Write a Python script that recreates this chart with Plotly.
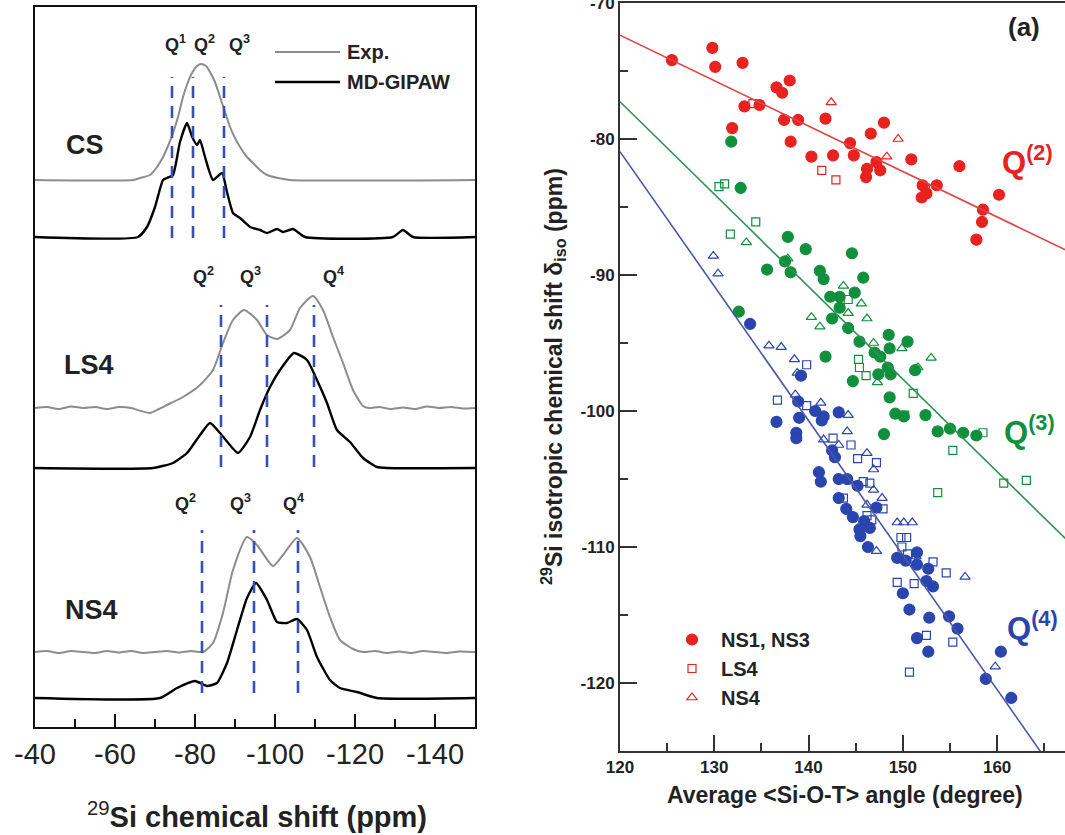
import plotly.graph_objects as go

W, H = 1065, 835
FONT = "Liberation Sans, Arial, sans-serif"

# ================= LEFT PANEL : 29Si spectra =================
# CS
cs_exp_shift = [-40, -64.5, -66.25, -68.75, -70.5, -72, -73.25, -74.5, -75.75, -77, -78.25, -79.25, -80.5,
                -81.5, -82.75, -83.75, -85, -86.25, -87.5, -88.75, -90, -91.25, -93, -94.5, -96.25, -98,
                -100.75, -103.75, -150]
cs_exp_int = [0, 0, 0.2, 0.5, 1.3, 2.3, 3.4, 4.7, 6.3, 8.3, 9.8, 10.7, 11.4,
              11.6, 11.4, 10.8, 9.8, 8.3, 6.8, 5.3, 4.2, 3.3, 2.3, 1.7, 1.0, 0.5,
              0.2, 0, 0]
cs_md_shift = [-40, -65.75, -68, -70, -72, -73, -74.5, -76.25, -78, -79.3, -80.5, -81.25, -82.5, -84.5,
               -86.75, -88, -89.5, -91.25, -93.75, -96.25, -98, -100.5, -102, -104.5, -107.5,
               -129.5, -132, -134.5, -150]
cs_md_int = [0, 0, 1.0, 3.0, 5.7, 5.9, 6.2, 9.5, 11.4, 10.0, 9.2, 9.7, 8.0, 5.7,
             6.4, 4.5, 2.4, 1.9, 1.0, 0.7, 0.4, 0.8, 0.5, 0.8, 0,
             0, 0.7, 0, 0]
# LS4
ls4_exp_shift = [-40, -43, -46, -49, -52, -55, -58, -61, -64, -66.5, -68.75, -71, -73, -77, -81.25, -84.5,
                 -87, -89.5, -92.25, -95.5, -98, -100.5, -103.75, -106.25, -109.5, -112, -114.5, -117,
                 -119.5, -122, -123.5, -126, -129, -132, -135, -138, -141, -144, -147, -150]
ls4_exp_int = [0, 0.1, -0.1, 0.15, 0, 0.1, -0.1, 0.1, 0, -0.3, -0.5, -0.1, 0.3, 1.1, 2.3, 3.8,
               6.5, 8.8, 9.8, 8.8, 7.3, 6.9, 7.8, 10.0, 11.2, 9.8, 7.1, 4.5,
               1.8, 0.2, 0, 0.1, -0.1, 0.05, -0.1, 0.15, 0, 0.1, -0.05, 0]
ls4_md_shift = [-40, -69.5, -74.5, -78, -81.25, -83.75, -86.25, -90.75, -93.75, -96.25, -98.75, -101.25,
                -104.75, -108, -110.5, -113, -115.5, -118.75, -122, -125.5, -128, -150]
ls4_md_int = [0, 0, 0.5, 1.5, 3.3, 4.5, 3.5, 1.5, 3.1, 5.8, 8.1, 9.8,
              11.5, 10.8, 8.8, 6.5, 3.8, 2.6, 1.0, 0.1, 0, 0]
# NS4
ns4_exp_shift = [-40, -43, -46, -49, -52, -55, -58, -61, -64, -67, -70, -73, -76, -79, -82, -84.5, -87,
                 -89.5, -93, -95.5, -99.5, -102, -105.5, -108.75, -111.25, -113.75, -116.25, -119.5,
                 -122, -125, -128, -131, -134, -137, -140, -143, -146, -150]
ns4_exp_int = [0, 0.1, -0.1, 0.1, 0, -0.1, 0.1, -0.05, 0.1, -0.1, 0, 0.1, -0.05, 0.1, 0, 0.9, 3.9,
               8.2, 11.5, 10.7, 8.6, 9.7, 11.4, 9.5, 6.5, 3.5, 1.2, 0.3,
               0, 0.1, -0.1, 0.05, -0.1, 0.1, 0, -0.1, 0.05, 0]
ns4_md_shift = [-40, -71.25, -75.5, -80, -83, -85.5, -88, -90.5, -93, -95.25, -98, -100.5, -103,
                -105.5, -108, -110.5, -113.75, -116.25, -120.5, -125.5, -150]
ns4_md_int = [0, 0, 1.0, 1.7, 1.2, 1.5, 3.5, 6.8, 10.0, 11.5, 9.8, 7.6, 7.5,
              7.9, 6.8, 4.1, 1.8, 1.0, 0.6, 0, 0]

samples = ["CS", "LS4", "NS4"]
exp_offset = [54.7, 31.9, 7.5]
md_offset = [49.0, 25.9, 2.9]
# Q^n site positions (ppm) and their labels
q_pos = [[-74.25, -79.5, -87.25], [-86.5, -98.0, -109.75], [-81.75, -94.75, -105.75]]
q_names = [["1", "2", "3"], ["2", "3", "4"], ["2", "3", "4"]]
q_label_x = [[-75.0, -82.25, -91.0], [-82.0, -93.75, -114.5], [-77.5, -91.25, -104.5]]
q_label_y = [68.4, 45.2, 22.5]
q_dash_y = [[48.9, 65.0], [26.0, 42.2], [3.4, 19.7]]
sample_label_pos = [(-52.5, 58.2), (-53.5, 36.2), (-54.0, 11.7)]

exp_data = [(cs_exp_shift, cs_exp_int), (ls4_exp_shift, ls4_exp_int), (ns4_exp_shift, ns4_exp_int)]
md_data = [(cs_md_shift, cs_md_int), (ls4_md_shift, ls4_md_int), (ns4_md_shift, ns4_md_int)]

# ================= RIGHT PANEL : delta_iso vs angle =================
q2_fill_x = [125.5, 129.8, 130.1, 133.0, 136.6, 137.2, 138.0, 133.2, 134.8, 137.4, 138.9, 141.8, 131.9,
             138.1, 140.3, 142.6, 144.4, 144.8, 146.6, 148.0, 147.2, 146.2, 147.6, 146.1, 150.9, 156.0,
             152.1, 153.6, 152.5, 152.0, 160.2, 158.5, 158.4, 157.8]
q2_fill_y = [-74.2, -73.3, -74.7, -74.4, -76.2, -76.6, -75.7, -77.6, -77.5, -78.6, -78.6, -78.5, -79.2,
             -80.2, -81.3, -81.2, -80.3, -81.2, -79.6, -78.8, -81.7, -82.2, -82.3, -82.8, -81.5, -82.0,
             -83.4, -83.4, -84.0, -84.3, -84.1, -85.2, -86.1, -87.4]
q2_sq_x = [134.1, 141.4, 142.9, 152.4]
q2_sq_y = [-77.4, -82.3, -83.0, -83.7]
q2_tri_x = [142.4, 149.5, 148.3]
q2_tri_y = [-77.3, -80.0, -81.3]

q3_fill_x = [131.8, 132.8, 137.8, 139.7, 144.6, 135.6, 137.5, 138.1, 141.2, 141.6, 145.8, 142.3, 143.3,
             144.9, 143.3, 142.5, 144.2, 145.4, 148.5, 148.6, 147.0, 147.6, 141.8, 147.4, 144.7, 148.6,
             149.2, 148.0, 132.6, 150.5, 148.4, 148.7, 151.3, 150.1, 152.4, 153.7, 155.0, 156.4, 157.8]
q3_fill_y = [-80.2, -83.6, -87.2, -88.1, -88.4, -89.6, -89.0, -89.8, -89.7, -90.3, -90.2, -91.6, -91.6,
             -91.3, -92.4, -93.2, -93.9, -94.9, -94.4, -95.4, -95.7, -96.0, -96.0, -97.3, -97.8, -99.0,
             -100.2, -101.7, -92.7, -94.9, -96.8, -97.3, -97.0, -100.4, -100.3, -101.5, -101.3, -101.6, -101.8]
q3_sq_x = [130.5, 131.1, 134.4, 131.7, 144.2, 145.3, 145.4, 146.1, 151.1, 150.2, 158.5, 155.3, 160.7,
           163.1, 153.7]
q3_sq_y = [-83.5, -83.3, -86.1, -87.0, -91.8, -96.2, -96.8, -97.4, -98.7, -100.3, -101.6, -102.9, -105.3,
           -105.1, -106.0]
q3_tri_x = [133.4, 137.8, 143.7, 145.6, 144.2, 146.2, 140.3, 141.2, 146.9, 147.3, 148.8, 149.9, 153.0, 151.6]
q3_tri_y = [-87.6, -88.8, -90.8, -92.1, -92.8, -93.2, -93.1, -93.8, -95.0, -97.9, -97.1, -95.4, -96.1, -96.8]

q4_fill_x = [133.8, 139.2, 138.9, 140.7, 141.6, 141.4, 143.2, 136.6, 139.0, 138.7, 138.7, 142.5, 142.8,
             141.1, 141.3, 143.2, 144.1, 145.2, 143.2, 144.0, 144.7, 147.2, 145.9, 145.4, 146.5, 145.5,
             146.3, 149.4, 150.3, 151.5, 151.5, 152.7, 152.5, 153.2, 150.0, 150.7, 152.8, 154.9, 155.8,
             151.5, 152.7, 160.4, 158.8, 161.5]
q4_fill_y = [-93.6, -97.4, -99.3, -100.0, -100.4, -100.7, -100.1, -100.8, -100.5, -101.6, -102.0, -102.9,
             -103.4, -104.5, -105.2, -105.0, -105.0, -105.5, -106.4, -107.2, -107.8, -107.1, -108.1, -108.7,
             -108.6, -109.2, -110.0, -110.8, -111.0, -110.4, -111.3, -111.6, -112.5, -112.9, -113.4, -114.6,
             -115.2, -115.1, -116.0, -116.7, -117.7, -117.7, -119.7, -121.1]
q4_sq_x = [139.8, 136.7, 139.8, 142.6, 144.5, 145.2, 147.2, 145.8, 146.5, 143.7, 146.2, 147.9, 146.7,
           149.8, 150.4, 149.9, 150.5, 153.2, 154.6, 149.4, 151.2, 152.5, 155.3, 150.7]
q4_sq_y = [-96.6, -99.2, -99.6, -102.0, -102.5, -103.5, -103.8, -105.2, -105.3, -106.4, -107.7, -107.2,
           -108.0, -109.3, -109.3, -110.0, -110.5, -111.1, -111.9, -112.6, -112.7, -116.5, -117.0, -119.2]
q4_tri_x = [129.9, 130.4, 135.8, 137.1, 138.5, 138.8, 141.3, 144.2, 144.1, 138.6, 141.6, 143.2, 146.2,
            146.9, 144.4, 146.9, 147.8, 146.2, 149.4, 150.1, 151.0, 147.2, 151.4, 156.6, 159.8]
q4_tri_y = [-88.6, -89.9, -95.2, -95.3, -96.2, -97.2, -99.4, -100.3, -101.5, -98.8, -102.1, -102.5, -103.1,
            -104.3, -105.2, -105.8, -106.4, -106.9, -108.2, -108.2, -108.2, -110.3, -110.7, -112.2, -118.8]

# linear fits: (value at 120 deg, slope ppm/deg)
fit_q2 = (-72.37, -0.334)
fit_q3 = (-77.26, -0.680)
fit_q4 = (-80.93, -0.989)

RED, GREEN, BLUE = "#E8221F", "#10903C", "#2A45AE"
LRED, LGREEN, LBLUE = "#E04444", "#2E9155", "#4A57A6"

# ----------------- figure -----------------
def px(x):
    return x / W

def py(y):
    return 1 - y / H

fig = go.Figure()

for i in range(3):
    sx, si = exp_data[i]
    fig.add_trace(go.Scatter(x=sx, y=[v + exp_offset[i] for v in si], mode="lines",
                             line=dict(color="#8C8C8C", width=2, shape="spline", smoothing=0.6),
                             xaxis="x", yaxis="y", showlegend=False, hoverinfo="skip"))
    mx, mi = md_data[i]
    fig.add_trace(go.Scatter(x=mx, y=[v + md_offset[i] for v in mi], mode="lines",
                             line=dict(color="#000000", width=2.4, shape="spline", smoothing=0.5),
                             xaxis="x", yaxis="y", showlegend=False, hoverinfo="skip"))

shapes = []
annotations = []
for i in range(3):
    for j, qx in enumerate(q_pos[i]):
        shapes.append(dict(type="line", xref="x", yref="y", x0=qx, x1=qx,
                           y0=q_dash_y[i][0], y1=q_dash_y[i][1],
                           line=dict(color="#3550B8", width=2.6, dash="12px,8px")))
        annotations.append(dict(xref="x", yref="y", x=q_label_x[i][j], y=q_label_y[i],
                                xanchor="center", yanchor="middle",
                                text="<b>Q<sup>%s</sup></b>" % q_names[i][j], showarrow=False,
                                font=dict(family=FONT, size=18, color="#222222")))
    lx, ly = sample_label_pos[i]
    annotations.append(dict(xref="x", yref="y", x=lx, y=ly, text="<b>%s</b>" % samples[i],
                            xanchor="center", yanchor="middle",
                            showarrow=False, font=dict(family=FONT, size=27, color="#222222")))


def label(x, y, text, size, color="#222", angle=0, xanchor="center"):
    return dict(xref="paper", yref="paper", x=px(x), y=py(y), xanchor=xanchor, yanchor="middle",
                text=text, showarrow=False, textangle=angle,
                font=dict(family=FONT, size=size, color=color))


# left legend
shapes.append(dict(type="line", xref="paper", yref="paper", x0=px(275), x1=px(340), y0=py(52), y1=py(52),
                   line=dict(color="#8C8C8C", width=2)))
shapes.append(dict(type="line", xref="paper", yref="paper", x0=px(275), x1=px(340), y0=py(82), y1=py(82),
                   line=dict(color="#000000", width=2.4)))
annotations.append(label(345, 52, "<b>Exp.</b>", 20, xanchor="left"))
annotations.append(label(345, 82, "<b>MD-GIPAW</b>", 20, xanchor="left"))
annotations.append(label(257, 815, "<sup>29</sup><b>Si chemical shift (ppm)</b>", 29))

# right panel traces
groups = [
    (q2_fill_x, q2_fill_y, "circle", RED), (q2_sq_x, q2_sq_y, "square-open", RED), (q2_tri_x, q2_tri_y, "triangle-up-open", RED),
    (q3_fill_x, q3_fill_y, "circle", GREEN), (q3_sq_x, q3_sq_y, "square-open", GREEN), (q3_tri_x, q3_tri_y, "triangle-up-open", GREEN),
    (q4_fill_x, q4_fill_y, "circle", BLUE), (q4_sq_x, q4_sq_y, "square-open", BLUE), (q4_tri_x, q4_tri_y, "triangle-up-open", BLUE),
]
for gx, gy, sym, col in groups:
    size = 11 if sym == "circle" else (8 if sym == "square-open" else 9)
    fig.add_trace(go.Scatter(x=gx, y=gy, mode="markers", xaxis="x2", yaxis="y2", showlegend=False,
                             marker=dict(symbol=sym, size=size, color=col, line=dict(color=col, width=1.2)),
                             hoverinfo="skip"))

x_line = [120, 168]
for (a, b), col in [(fit_q2, LRED), (fit_q3, LGREEN), (fit_q4, LBLUE)]:
    fig.add_trace(go.Scatter(x=x_line, y=[a + b * (v - 120) for v in x_line], mode="lines",
                             line=dict(color=col, width=1.6), xaxis="x2", yaxis="y2",
                             showlegend=False, hoverinfo="skip"))

legend_names = ["NS1, NS3", "LS4", "NS4"]
legend_syms = ["circle", "square-open", "triangle-up-open"]
legend_sizes = [11, 8, 9]
for nm, sym, sz in zip(legend_names, legend_syms, legend_sizes):
    fig.add_trace(go.Scatter(x=[None], y=[None], mode="markers", xaxis="x2", yaxis="y2", name="<b>%s</b>" % nm,
                             marker=dict(symbol=sym, size=sz, color=RED, line=dict(color=RED, width=1.2))))

annotations += [
    label(1024, 27, "<b>(a)</b>", 26),
    label(1027, 160, "<b>Q<sup>(2)</sup></b>", 31, RED),
    label(1029, 430, "<b>Q<sup>(3)</sup></b>", 31, GREEN),
    label(1032, 626, "<b>Q<sup>(4)</sup></b>", 31, BLUE),
    label(845, 795, "<b>Average &lt;Si-O-T&gt; angle (degree)</b>", 23),
    label(553, 377, "<b><sup>29</sup>Si isotropic chemical shift δ<sub>iso</sub> (ppm)</b>", 23, angle=-90),
]

left_ticks = [-40, -60, -80, -100, -120, -140]
right_xticks = [120, 130, 140, 150, 160]
right_yticks = [-120, -110, -100, -90, -80, -70]

fig.update_layout(
    width=W, height=H, margin=dict(l=0, r=0, t=0, b=0, autoexpand=False),
    paper_bgcolor="white", plot_bgcolor="white",
    showlegend=True,
    legend=dict(x=px(663), y=py(620), xanchor="left", yanchor="top", bgcolor="rgba(0,0,0,0)",
                font=dict(family=FONT, size=20, color="#222"), tracegroupgap=0, itemsizing="trace",
                itemwidth=48),
    xaxis=dict(domain=[px(35), px(475)], range=[-40, -150], showgrid=False, zeroline=False,
               automargin=False, ticklabeloverflow="allow",
               showline=True, mirror=True, linecolor="#111", linewidth=2,
               ticks="inside", ticklen=13, tickwidth=2, tickcolor="#111",
               tickvals=left_ticks, ticktext=[str(v) for v in left_ticks],
               tickfont=dict(family=FONT, size=29, color="#222"),
               minor=dict(tickvals=[-50, -70, -90, -110, -130], ticks="inside", ticklen=8, tickwidth=2,
                          tickcolor="#111", showgrid=False),
               anchor="y"),
    yaxis=dict(domain=[py(727), py(7)], range=[0, 72], showgrid=False, zeroline=False,
               automargin=False,
               showline=True, mirror=True, linecolor="#111", linewidth=2, showticklabels=False,
               ticks="", anchor="x"),
    xaxis2=dict(domain=[px(620), 1.0], range=[120, 167.2], showgrid=False, zeroline=False,
                automargin=False, ticklabeloverflow="allow",
                showline=True, mirror=True, linecolor="#333", linewidth=2,
                ticks="inside", ticklen=16, tickwidth=1.5, tickcolor="#333",
                tickvals=right_xticks, ticktext=["<b>%d</b>" % v for v in right_xticks],
                tickfont=dict(family=FONT, size=17, color="#222"),
                minor=dict(tickvals=[125, 135, 145, 155, 165], ticks="inside", ticklen=8, tickwidth=1.5,
                           tickcolor="#333", showgrid=False),
                anchor="y2"),
    yaxis2=dict(domain=[py(751), py(3)], range=[-125, -70], showgrid=False, zeroline=False,
                automargin=False, ticklabeloverflow="allow",
                showline=True, mirror=False, linecolor="#333", linewidth=2,
                ticks="inside", ticklen=17, tickwidth=1.5, tickcolor="#333",
                tickvals=right_yticks, ticktext=["<b>%d</b>" % v for v in right_yticks],
                tickfont=dict(family=FONT, size=17, color="#222"),
                minor=dict(tickvals=[-115, -105, -95, -85, -75], ticks="inside", ticklen=8, tickwidth=1.5,
                           tickcolor="#333", showgrid=False),
                anchor="x2"),
    shapes=shapes, annotations=annotations,
)

# remove the browser's default 8px page margin so the figure sits at the window's corner
fig.write_html("out.html", config={"displayModeBar": False},
               post_script="document.body.style.margin='0';document.body.style.overflow='hidden';")
